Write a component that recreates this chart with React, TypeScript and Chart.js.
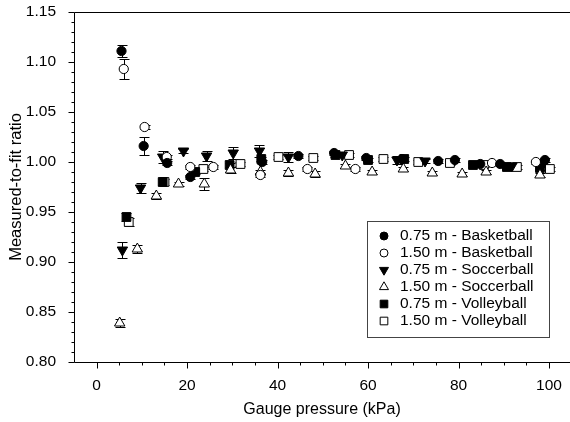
import React, { useEffect, useRef } from "react";
import { Chart, registerables } from "chart.js";

Chart.register(...registerables);

const FONT = "'Liberation Sans', Arial, sans-serif";

// Basketball 0.75 m (filled circle)
const bb075X = [5.5, 10.4, 15.6, 20.7, 36.6, 44.6, 52.5, 59.6, 67.5, 75.5, 79.2, 84.8, 89.2, 99.1];
const bb075Y = [1.111, 1.016, 0.999, 0.985, 1.0, 1.006, 1.009, 1.004, 1.003, 1.001, 1.002, 0.998, 0.998, 1.002];
const bb075E = [0.006, 0.009, 0.002, 0.002, 0.002, 0.002, 0.002, 0.002, 0.002, 0.002, 0.002, 0.002, 0.002, 0.002];

// Basketball 1.50 m (open circle)
const bb150X = [6.0, 10.6, 15.5, 20.7, 25.8, 36.2, 46.6, 57.2, 87.4, 97.1];
const bb150Y = [1.093, 1.035, 1.005, 0.995, 0.995, 0.987, 0.993, 0.993, 0.999, 1.0];
const bb150E = [0.01, 0.002, 0.002, 0.002, 0.002, 0.002, 0.002, 0.002, 0.002, 0.002];

// Soccerball 0.75 m (filled down triangle)
const sb075X = [5.7, 9.7, 14.6, 19.2, 24.3, 30.2, 36.0, 42.4, 54.3, 66.4, 72.6, 91.8, 98.5];
const sb075Y = [0.912, 0.974, 1.005, 1.011, 1.006, 1.009, 1.011, 1.005, 1.007, 1.002, 1.001, 0.996, 0.997];
const sb075E = [0.008, 0.005, 0.006, 0.002, 0.005, 0.006, 0.006, 0.005, 0.002, 0.004, 0.002, 0.002, 0.002];

// Soccerball 1.50 m (open up triangle)
const sb150X = [5.1, 9.0, 13.2, 18.1, 23.8, 29.6, 36.2, 42.4, 48.3, 55.0, 60.9, 67.8, 74.2, 80.8, 86.1, 98.0];
const sb150Y = [0.839, 0.913, 0.966, 0.978, 0.978, 0.992, 0.99, 0.989, 0.988, 0.996, 0.99, 0.993, 0.989, 0.988, 0.99, 0.987];
const sb150E = [0.004, 0.004, 0.003, 0.002, 0.006, 0.003, 0.002, 0.003, 0.003, 0.002, 0.002, 0.002, 0.002, 0.002, 0.002, 0.002];

// Volleyball 0.75 m (filled square)
const vb075X = [6.6, 14.6, 21.8, 29.4, 36.4, 52.8, 60.0, 68.0, 83.2, 90.7, 98.0];
const vb075Y = [0.945, 0.98, 0.99, 0.997, 1.003, 1.007, 1.002, 1.003, 0.997, 0.995, 0.994];
const vb075E = [0.004, 0.003, 0.002, 0.002, 0.002, 0.002, 0.002, 0.002, 0.002, 0.002, 0.002];

// Volleyball 1.50 m (open square)
const vb150X = [7.1, 15.0, 23.6, 31.8, 40.2, 47.9, 55.8, 63.4, 71.1, 78.1, 85.6, 92.9, 100.2];
const vb150Y = [0.94, 0.98, 0.993, 0.998, 1.005, 1.004, 1.007, 1.003, 1.0, 0.999, 0.997, 0.995, 0.993];
const vb150E = [0.004, 0.003, 0.002, 0.002, 0.002, 0.002, 0.002, 0.002, 0.002, 0.002, 0.002, 0.002, 0.002];

const seriesLabels = [
  "0.75 m - Basketball",
  "1.50 m - Basketball",
  "0.75 m - Soccerball",
  "1.50 m - Soccerball",
  "0.75 m - Volleyball",
  "1.50 m - Volleyball",
];

const xTickValues = [0, 20, 40, 60, 80, 100];
const yTickValues = [0.8, 0.85, 0.9, 0.95, 1.0, 1.05, 1.1, 1.15];

const xTitle = "Gauge pressure (kPa)";
const yTitle = "Measured-to-fit ratio";

type Style = { shape: string; filled: boolean; radius: number; rotation: number };
const styles: Style[] = [
  { shape: "circle", filled: true, radius: 4.6, rotation: 0 },
  { shape: "circle", filled: false, radius: 4.6, rotation: 0 },
  { shape: "triangle", filled: true, radius: 6, rotation: 180 },
  { shape: "triangle", filled: false, radius: 6, rotation: 0 },
  { shape: "rect", filled: true, radius: 6.2, rotation: 0 },
  { shape: "rect", filled: false, radius: 6.2, rotation: 0 },
];

const allX = [bb075X, bb150X, sb075X, sb150X, vb075X, vb150X];
const allY = [bb075Y, bb150Y, sb075Y, sb150Y, vb075Y, vb150Y];
const allE = [bb075E, bb150E, sb075E, sb150E, vb075E, vb150E];

function drawMarker(ctx: CanvasRenderingContext2D, s: Style, x: number, y: number, r: number) {
  ctx.save();
  ctx.beginPath();
  if (s.shape === "circle") {
    ctx.arc(x, y, r, 0, Math.PI * 2);
  } else if (s.shape === "rect") {
    const h = r * Math.SQRT1_2;
    ctx.rect(x - h, y - h, 2 * h, 2 * h);
  } else {
    const dir = s.rotation === 180 ? -1 : 1;
    for (let i = 0; i < 3; i++) {
      const a = (i * 2 * Math.PI) / 3;
      const px = x + Math.sin(a) * r;
      const py = y - dir * Math.cos(a) * r;
      if (i === 0) ctx.moveTo(px, py);
      else ctx.lineTo(px, py);
    }
    ctx.closePath();
  }
  ctx.fillStyle = s.filled ? "#000" : "#fff";
  ctx.fill();
  ctx.strokeStyle = "#000";
  ctx.lineWidth = 1;
  ctx.stroke();
  ctx.restore();
}

const errorBarPlugin = {
  id: "errorBars",
  beforeDatasetsDraw(chart: any) {
    const ctx = chart.ctx;
    const xs = chart.scales.x;
    const ys = chart.scales.y;
    ctx.save();
    ctx.strokeStyle = "#000";
    ctx.lineWidth = 1;
    chart.data.datasets.forEach((ds: any) => {
      ds.data.forEach((p: any) => {
        const px = Math.round(xs.getPixelForValue(p.x)) + 0.5;
        const y1 = Math.round(ys.getPixelForValue(p.y + p.e)) + 0.5;
        const y2 = Math.round(ys.getPixelForValue(p.y - p.e)) + 0.5;
        ctx.beginPath();
        ctx.moveTo(px, y1);
        ctx.lineTo(px, y2);
        ctx.moveTo(px - 5, y1);
        ctx.lineTo(px + 5, y1);
        ctx.moveTo(px - 5, y2);
        ctx.lineTo(px + 5, y2);
        ctx.stroke();
      });
    });
    ctx.restore();
  },
};

const framePlugin = {
  id: "frame",
  afterDraw(chart: any) {
    const ctx = chart.ctx;
    const { left, top, bottom } = chart.chartArea;
    const W = chart.width;
    const xs = chart.scales.x;
    const ys = chart.scales.y;
    ctx.save();
    ctx.strokeStyle = "#000";
    ctx.lineWidth = 1;
    const L = Math.round(left) + 0.5;
    const T = Math.round(top) + 0.5;
    const B = Math.round(bottom) + 0.5;
    ctx.beginPath();
    ctx.moveTo(L, T);
    ctx.lineTo(W, T);
    ctx.moveTo(L, T);
    ctx.lineTo(L, B);
    ctx.lineTo(W, B);
    // y ticks
    for (let i = 0; i <= 35; i++) {
      const v = 0.8 + i * 0.01;
      const py = Math.round(ys.getPixelForValue(v)) + 0.5;
      const len = i % 5 === 0 ? 6 : 3;
      ctx.moveTo(L - len, py);
      ctx.lineTo(L, py);
    }
    // x ticks
    for (let v = 0; v <= 100; v += 5) {
      const px = Math.round(xs.getPixelForValue(v)) + 0.5;
      const len = v % 20 === 0 ? 6 : 3;
      ctx.moveTo(px, B);
      ctx.lineTo(px, B + len);
    }
    ctx.stroke();

    // x axis title, centred on the full plot frame
    ctx.font = `16px ${FONT}`;
    ctx.textAlign = "center";
    ctx.textBaseline = "middle";
    ctx.fillStyle = "#000";
    ctx.fillText(xTitle, (left + W) / 2, 410);

    // legend
    const bx = 367.5, by = 221.5, bw = 182, bh = 116;
    ctx.strokeStyle = "#444";
    ctx.strokeRect(bx, by, bw, bh);
    ctx.font = `15.5px ${FONT}`;
    ctx.textBaseline = "middle";
    ctx.textAlign = "left";
    seriesLabels.forEach((lab, i) => {
      const ry = 236 + i * 17;
      const s = styles[i];
      const r = s.shape === "circle" ? 4 : s.shape === "rect" ? 5.4 : 5.2;
      drawMarker(ctx, s, 384, ry, r);
      ctx.fillStyle = "#000";
      ctx.fillText(lab, 400, ry);
    });
    ctx.restore();
  },
};

export default function App() {
  const ref = useRef<HTMLCanvasElement | null>(null);
  useEffect(() => {
    if (!ref.current) return;
    const datasets = seriesLabels.map((label, i) => {
      const s = styles[i];
      return {
        label,
        data: allX[i].map((x, j) => ({ x, y: allY[i][j], e: allE[i][j] })),
        pointStyle: s.shape,
        pointRotation: s.rotation,
        pointRadius: s.radius,
        pointBackgroundColor: s.filled ? "#000" : "#fff",
        pointBorderColor: "#000",
        pointBorderWidth: 1,
        showLine: false,
      };
    });
    const chart = new Chart(ref.current, {
      type: "scatter",
      data: { datasets: datasets as any },
      options: {
        animation: false,
        responsive: false,
        devicePixelRatio: 1,
        layout: { padding: { top: 12, right: 0, left: 0, bottom: 0 } },
        plugins: { legend: { display: false }, tooltip: { enabled: false } },
        scales: {
          x: {
            type: "linear",
            min: -5,
            max: 103.05,
            grid: { display: false },
            border: { display: false },
            afterBuildTicks: (scale: any) => {
              scale.ticks = xTickValues.map((v) => ({ value: v }));
            },
            afterFit: (scale: any) => {
              scale.height = 60;
              scale.paddingLeft = 0;
              scale.paddingRight = 0;
            },
            ticks: {
              color: "#000",
              padding: 6,
              maxRotation: 0,
              font: { family: FONT, size: 15.5 },
              callback: (v: any) => String(v),
            },
            title: { display: false },
          },
          y: {
            type: "linear",
            min: 0.8,
            max: 1.15,
            grid: { display: false },
            border: { display: false },
            afterBuildTicks: (scale: any) => {
              scale.ticks = yTickValues.map((v) => ({ value: v }));
            },
            afterFit: (scale: any) => {
              scale.width = 74;
              scale.paddingTop = 0;
              scale.paddingBottom = 0;
            },
            ticks: {
              color: "#000",
              padding: 10,
              font: { family: FONT, size: 15.5 },
              callback: (v: any) => Number(v).toFixed(2),
            },
            title: {
              display: true,
              text: yTitle,
              color: "#000",
              font: { family: FONT, size: 16.5 },
              padding: { top: 7, bottom: 0 },
            },
          },
        },
      },
      plugins: [errorBarPlugin, framePlugin],
    });
    return () => chart.destroy();
  }, []);
  return (
    <div style={{ position: "fixed", left: 0, top: 0, width: 570, height: 422, background: "#fff" }}>
      <canvas ref={ref} width={570} height={422} style={{ display: "block" }} />
    </div>
  );
}
